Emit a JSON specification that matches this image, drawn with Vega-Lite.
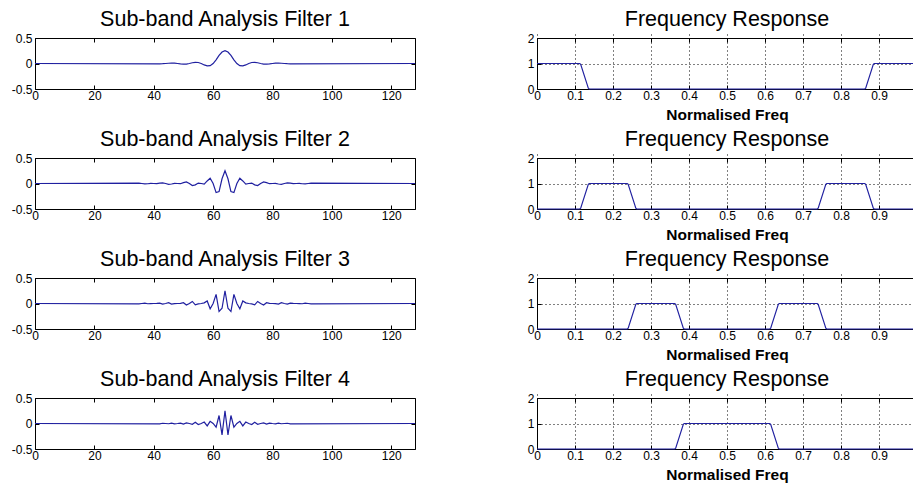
{
  "$schema": "https://vega.github.io/schema/vega-lite/v6.json",
  "background": "white",
  "padding": {"left": 10, "top": 8, "right": 0, "bottom": 0},
  "datasets": {
    "imp": [
      {"f":1,"n":0,"h":0},{"f":1,"n":42,"h":-0.0058},{"f":1,"n":43,"h":-0.0043},{"f":1,"n":44,"h":0},{"f":1,"n":45,"h":0.005},{"f":1,"n":46,"h":0.0079},{"f":1,"n":47,"h":0.0062},{"f":1,"n":48,"h":0},{"f":1,"n":49,"h":-0.0081},{"f":1,"n":50,"h":-0.0131},{"f":1,"n":51,"h":-0.0106},{"f":1,"n":52,"h":0},{"f":1,"n":53,"h":0.0144},{"f":1,"n":54,"h":0.0236},{"f":1,"n":55,"h":0.0196},{"f":1,"n":56,"h":0},{"f":1,"n":57,"h":-0.0278},{"f":1,"n":58,"h":-0.0476},{"f":1,"n":59,"h":-0.0417},{"f":1,"n":60,"h":0},{"f":1,"n":61,"h":0.073},{"f":1,"n":62,"h":0.1573},{"f":1,"n":63,"h":0.2244},{"f":1,"n":64,"h":0.25},{"f":1,"n":65,"h":0.2244},{"f":1,"n":66,"h":0.1573},{"f":1,"n":67,"h":0.073},{"f":1,"n":68,"h":0},{"f":1,"n":69,"h":-0.0417},{"f":1,"n":70,"h":-0.0476},{"f":1,"n":71,"h":-0.0278},{"f":1,"n":72,"h":0},{"f":1,"n":73,"h":0.0196},{"f":1,"n":74,"h":0.0236},{"f":1,"n":75,"h":0.0144},{"f":1,"n":76,"h":0},{"f":1,"n":77,"h":-0.0106},{"f":1,"n":78,"h":-0.0131},{"f":1,"n":79,"h":-0.0081},{"f":1,"n":80,"h":0},{"f":1,"n":81,"h":0.0062},{"f":1,"n":82,"h":0.0079},{"f":1,"n":83,"h":0.005},{"f":1,"n":84,"h":0},{"f":1,"n":85,"h":-0.0043},{"f":1,"n":86,"h":-0.0058},{"f":1,"n":128,"h":0},
      {"f":2,"n":0,"h":0},{"f":2,"n":35,"h":0.0075},{"f":2,"n":36,"h":0},{"f":2,"n":37,"h":-0.0082},{"f":2,"n":38,"h":-0.0051},{"f":2,"n":39,"h":0.0016},{"f":2,"n":40,"h":0},{"f":2,"n":41,"h":-0.0019},{"f":2,"n":42,"h":0.007},{"f":2,"n":43,"h":0.0131},{"f":2,"n":44,"h":0},{"f":2,"n":45,"h":-0.016},{"f":2,"n":46,"h":-0.0104},{"f":2,"n":47,"h":0.0034},{"f":2,"n":48,"h":0},{"f":2,"n":49,"h":-0.0042},{"f":2,"n":50,"h":0.0163},{"f":2,"n":51,"h":0.0311},{"f":2,"n":52,"h":0},{"f":2,"n":53,"h":-0.0397},{"f":2,"n":54,"h":-0.0269},{"f":2,"n":55,"h":0.009},{"f":2,"n":56,"h":0},{"f":2,"n":57,"h":-0.0124},{"f":2,"n":58,"h":0.0498},{"f":2,"n":59,"h":0.104},{"f":2,"n":60,"h":0},{"f":2,"n":61,"h":-0.1781},{"f":2,"n":62,"h":-0.1579},{"f":2,"n":63,"h":0.0931},{"f":2,"n":64,"h":0.25},{"f":2,"n":65,"h":0.0931},{"f":2,"n":66,"h":-0.1579},{"f":2,"n":67,"h":-0.1781},{"f":2,"n":68,"h":0},{"f":2,"n":69,"h":0.104},{"f":2,"n":70,"h":0.0498},{"f":2,"n":71,"h":-0.0124},{"f":2,"n":72,"h":0},{"f":2,"n":73,"h":0.009},{"f":2,"n":74,"h":-0.0269},{"f":2,"n":75,"h":-0.0397},{"f":2,"n":76,"h":0},{"f":2,"n":77,"h":0.0311},{"f":2,"n":78,"h":0.0163},{"f":2,"n":79,"h":-0.0042},{"f":2,"n":80,"h":0},{"f":2,"n":81,"h":0.0034},{"f":2,"n":82,"h":-0.0104},{"f":2,"n":83,"h":-0.016},{"f":2,"n":84,"h":0},{"f":2,"n":85,"h":0.0131},{"f":2,"n":86,"h":0.007},{"f":2,"n":87,"h":-0.0019},{"f":2,"n":88,"h":0},{"f":2,"n":89,"h":0.0016},{"f":2,"n":90,"h":-0.0051},{"f":2,"n":91,"h":-0.0082},{"f":2,"n":92,"h":0},{"f":2,"n":93,"h":0.0075},{"f":2,"n":128,"h":0},
      {"f":3,"n":0,"h":0},{"f":3,"n":35,"h":-0.0075},{"f":3,"n":36,"h":0},{"f":3,"n":37,"h":0.0082},{"f":3,"n":38,"h":-0.0051},{"f":3,"n":39,"h":-0.0016},{"f":3,"n":40,"h":0},{"f":3,"n":41,"h":0.0019},{"f":3,"n":42,"h":0.007},{"f":3,"n":43,"h":-0.0131},{"f":3,"n":44,"h":0},{"f":3,"n":45,"h":0.016},{"f":3,"n":46,"h":-0.0104},{"f":3,"n":47,"h":-0.0034},{"f":3,"n":48,"h":0},{"f":3,"n":49,"h":0.0042},{"f":3,"n":50,"h":0.0163},{"f":3,"n":51,"h":-0.0311},{"f":3,"n":52,"h":0},{"f":3,"n":53,"h":0.0397},{"f":3,"n":54,"h":-0.0269},{"f":3,"n":55,"h":-0.009},{"f":3,"n":56,"h":0},{"f":3,"n":57,"h":0.0124},{"f":3,"n":58,"h":0.0498},{"f":3,"n":59,"h":-0.104},{"f":3,"n":60,"h":0},{"f":3,"n":61,"h":0.1781},{"f":3,"n":62,"h":-0.1579},{"f":3,"n":63,"h":-0.0931},{"f":3,"n":64,"h":0.25},{"f":3,"n":65,"h":-0.0931},{"f":3,"n":66,"h":-0.1579},{"f":3,"n":67,"h":0.1781},{"f":3,"n":68,"h":0},{"f":3,"n":69,"h":-0.104},{"f":3,"n":70,"h":0.0498},{"f":3,"n":71,"h":0.0124},{"f":3,"n":72,"h":0},{"f":3,"n":73,"h":-0.009},{"f":3,"n":74,"h":-0.0269},{"f":3,"n":75,"h":0.0397},{"f":3,"n":76,"h":0},{"f":3,"n":77,"h":-0.0311},{"f":3,"n":78,"h":0.0163},{"f":3,"n":79,"h":0.0042},{"f":3,"n":80,"h":0},{"f":3,"n":81,"h":-0.0034},{"f":3,"n":82,"h":-0.0104},{"f":3,"n":83,"h":0.016},{"f":3,"n":84,"h":0},{"f":3,"n":85,"h":-0.0131},{"f":3,"n":86,"h":0.007},{"f":3,"n":87,"h":0.0019},{"f":3,"n":88,"h":0},{"f":3,"n":89,"h":-0.0016},{"f":3,"n":90,"h":-0.0051},{"f":3,"n":91,"h":0.0082},{"f":3,"n":92,"h":0},{"f":3,"n":93,"h":-0.0075},{"f":3,"n":128,"h":0},
      {"f":4,"n":0,"h":0},{"f":4,"n":42,"h":-0.0058},{"f":4,"n":43,"h":0.0043},{"f":4,"n":44,"h":0},{"f":4,"n":45,"h":-0.005},{"f":4,"n":46,"h":0.0079},{"f":4,"n":47,"h":-0.0062},{"f":4,"n":48,"h":0},{"f":4,"n":49,"h":0.0081},{"f":4,"n":50,"h":-0.0131},{"f":4,"n":51,"h":0.0106},{"f":4,"n":52,"h":0},{"f":4,"n":53,"h":-0.0144},{"f":4,"n":54,"h":0.0236},{"f":4,"n":55,"h":-0.0196},{"f":4,"n":56,"h":0},{"f":4,"n":57,"h":0.0278},{"f":4,"n":58,"h":-0.0476},{"f":4,"n":59,"h":0.0417},{"f":4,"n":60,"h":0},{"f":4,"n":61,"h":-0.073},{"f":4,"n":62,"h":0.1573},{"f":4,"n":63,"h":-0.2244},{"f":4,"n":64,"h":0.25},{"f":4,"n":65,"h":-0.2244},{"f":4,"n":66,"h":0.1573},{"f":4,"n":67,"h":-0.073},{"f":4,"n":68,"h":0},{"f":4,"n":69,"h":0.0417},{"f":4,"n":70,"h":-0.0476},{"f":4,"n":71,"h":0.0278},{"f":4,"n":72,"h":0},{"f":4,"n":73,"h":-0.0196},{"f":4,"n":74,"h":0.0236},{"f":4,"n":75,"h":-0.0144},{"f":4,"n":76,"h":0},{"f":4,"n":77,"h":0.0106},{"f":4,"n":78,"h":-0.0131},{"f":4,"n":79,"h":0.0081},{"f":4,"n":80,"h":0},{"f":4,"n":81,"h":-0.0062},{"f":4,"n":82,"h":0.0079},{"f":4,"n":83,"h":-0.005},{"f":4,"n":84,"h":0},{"f":4,"n":85,"h":0.0043},{"f":4,"n":86,"h":-0.0058},{"f":4,"n":128,"h":0}
    ],
    "fr": [
      {"f":1,"x":0,"y":1},{"f":1,"x":0.1125,"y":1},{"f":1,"x":0.115,"y":0.97},{"f":1,"x":0.1175,"y":0.85},{"f":1,"x":0.1325,"y":0.15},{"f":1,"x":0.135,"y":0.03},{"f":1,"x":0.1375,"y":0},{"f":1,"x":0.8625,"y":0},{"f":1,"x":0.865,"y":0.03},{"f":1,"x":0.8675,"y":0.15},{"f":1,"x":0.8825,"y":0.85},{"f":1,"x":0.885,"y":0.97},{"f":1,"x":0.8875,"y":1},{"f":1,"x":1,"y":1},
      {"f":2,"x":0,"y":0},{"f":2,"x":0.1125,"y":0},{"f":2,"x":0.115,"y":0.03},{"f":2,"x":0.1175,"y":0.15},{"f":2,"x":0.1325,"y":0.85},{"f":2,"x":0.135,"y":0.97},{"f":2,"x":0.1375,"y":1},{"f":2,"x":0.2375,"y":1},{"f":2,"x":0.24,"y":0.97},{"f":2,"x":0.2425,"y":0.85},{"f":2,"x":0.2575,"y":0.15},{"f":2,"x":0.26,"y":0.03},{"f":2,"x":0.2625,"y":0},{"f":2,"x":0.7375,"y":0},{"f":2,"x":0.74,"y":0.03},{"f":2,"x":0.7425,"y":0.15},{"f":2,"x":0.7575,"y":0.85},{"f":2,"x":0.76,"y":0.97},{"f":2,"x":0.7625,"y":1},{"f":2,"x":0.8625,"y":1},{"f":2,"x":0.865,"y":0.97},{"f":2,"x":0.8675,"y":0.85},{"f":2,"x":0.8825,"y":0.15},{"f":2,"x":0.885,"y":0.03},{"f":2,"x":0.8875,"y":0},{"f":2,"x":1,"y":0},
      {"f":3,"x":0,"y":0},{"f":3,"x":0.2375,"y":0},{"f":3,"x":0.24,"y":0.03},{"f":3,"x":0.2425,"y":0.15},{"f":3,"x":0.2575,"y":0.85},{"f":3,"x":0.26,"y":0.97},{"f":3,"x":0.2625,"y":1},{"f":3,"x":0.3625,"y":1},{"f":3,"x":0.365,"y":0.97},{"f":3,"x":0.3675,"y":0.85},{"f":3,"x":0.3825,"y":0.15},{"f":3,"x":0.385,"y":0.03},{"f":3,"x":0.3875,"y":0},{"f":3,"x":0.6125,"y":0},{"f":3,"x":0.615,"y":0.03},{"f":3,"x":0.6175,"y":0.15},{"f":3,"x":0.6325,"y":0.85},{"f":3,"x":0.635,"y":0.97},{"f":3,"x":0.6375,"y":1},{"f":3,"x":0.7375,"y":1},{"f":3,"x":0.74,"y":0.97},{"f":3,"x":0.7425,"y":0.85},{"f":3,"x":0.7575,"y":0.15},{"f":3,"x":0.76,"y":0.03},{"f":3,"x":0.7625,"y":0},{"f":3,"x":1,"y":0},
      {"f":4,"x":0,"y":0},{"f":4,"x":0.3625,"y":0},{"f":4,"x":0.365,"y":0.03},{"f":4,"x":0.3675,"y":0.15},{"f":4,"x":0.3825,"y":0.85},{"f":4,"x":0.385,"y":0.97},{"f":4,"x":0.3875,"y":1},{"f":4,"x":0.6125,"y":1},{"f":4,"x":0.615,"y":0.97},{"f":4,"x":0.6175,"y":0.85},{"f":4,"x":0.6325,"y":0.15},{"f":4,"x":0.635,"y":0.03},{"f":4,"x":0.6375,"y":0},{"f":4,"x":1,"y":0}
    ]
  },
  "columns": 2,
  "spacing": {"row": 69, "column": 122},
  "bounds": "flush",
  "concat": [
    {"title": "Sub-band Analysis Filter 1", "width": 380, "height": 51, "data": {"name": "imp"}, "transform": [{"filter": "datum.f == 1"}],
     "layer": [
       {"mark": "line", "encoding": {"x": {"field": "n", "type": "quantitative", "scale": {"domain": [0, 128], "nice": false}, "axis": {"values": [0,20,40,60,80,100,120], "title": null, "orient": "bottom"}}, "y": {"field": "h", "type": "quantitative", "scale": {"domain": [-0.5, 0.5], "nice": false}, "axis": {"values": [-0.5,0,0.5], "title": null, "orient": "left", "labelExpr": "''+datum.value"}}}},
       {"mark": {"type": "line", "opacity": 0}, "encoding": {"x": {"field": "n", "type": "quantitative", "axis": {"values": [0,20,40,60,80,100,120], "title": null, "labels": false, "orient": "top"}}, "y": {"field": "h", "type": "quantitative", "axis": {"values": [-0.5,0,0.5], "title": null, "labels": false, "orient": "right"}}}}
     ], "resolve": {"axis": {"x": "independent", "y": "independent"}}},
    {"title": "Frequency Response", "width": 380, "height": 51, "data": {"name": "fr"}, "transform": [{"filter": "datum.f == 1"}],
     "layer": [
       {"mark": "line", "encoding": {"x": {"field": "x", "type": "quantitative", "scale": {"domain": [0, 1], "nice": false}, "axis": {"values": [0,0.1,0.2,0.3,0.4,0.5,0.6,0.7,0.8,0.9], "title": "Normalised Freq", "grid": true, "orient": "bottom", "labelExpr": "''+datum.value"}}, "y": {"field": "y", "type": "quantitative", "scale": {"domain": [0, 2], "nice": false}, "axis": {"values": [0,1,2], "title": null, "grid": true, "orient": "left", "labelExpr": "''+datum.value"}}}},
       {"mark": {"type": "line", "opacity": 0}, "encoding": {"x": {"field": "x", "type": "quantitative", "axis": {"values": [0,0.1,0.2,0.3,0.4,0.5,0.6,0.7,0.8,0.9], "title": null, "labels": false, "orient": "top"}}, "y": {"field": "y", "type": "quantitative", "axis": {"values": [0,1,2], "title": null, "labels": false, "orient": "right"}}}}
     ], "resolve": {"axis": {"x": "independent", "y": "independent"}}},
    {"title": "Sub-band Analysis Filter 2", "width": 380, "height": 51, "data": {"name": "imp"}, "transform": [{"filter": "datum.f == 2"}],
     "layer": [
       {"mark": "line", "encoding": {"x": {"field": "n", "type": "quantitative", "scale": {"domain": [0, 128], "nice": false}, "axis": {"values": [0,20,40,60,80,100,120], "title": null, "orient": "bottom"}}, "y": {"field": "h", "type": "quantitative", "scale": {"domain": [-0.5, 0.5], "nice": false}, "axis": {"values": [-0.5,0,0.5], "title": null, "orient": "left", "labelExpr": "''+datum.value"}}}},
       {"mark": {"type": "line", "opacity": 0}, "encoding": {"x": {"field": "n", "type": "quantitative", "axis": {"values": [0,20,40,60,80,100,120], "title": null, "labels": false, "orient": "top"}}, "y": {"field": "h", "type": "quantitative", "axis": {"values": [-0.5,0,0.5], "title": null, "labels": false, "orient": "right"}}}}
     ], "resolve": {"axis": {"x": "independent", "y": "independent"}}},
    {"title": "Frequency Response", "width": 380, "height": 51, "data": {"name": "fr"}, "transform": [{"filter": "datum.f == 2"}],
     "layer": [
       {"mark": "line", "encoding": {"x": {"field": "x", "type": "quantitative", "scale": {"domain": [0, 1], "nice": false}, "axis": {"values": [0,0.1,0.2,0.3,0.4,0.5,0.6,0.7,0.8,0.9], "title": "Normalised Freq", "grid": true, "orient": "bottom", "labelExpr": "''+datum.value"}}, "y": {"field": "y", "type": "quantitative", "scale": {"domain": [0, 2], "nice": false}, "axis": {"values": [0,1,2], "title": null, "grid": true, "orient": "left", "labelExpr": "''+datum.value"}}}},
       {"mark": {"type": "line", "opacity": 0}, "encoding": {"x": {"field": "x", "type": "quantitative", "axis": {"values": [0,0.1,0.2,0.3,0.4,0.5,0.6,0.7,0.8,0.9], "title": null, "labels": false, "orient": "top"}}, "y": {"field": "y", "type": "quantitative", "axis": {"values": [0,1,2], "title": null, "labels": false, "orient": "right"}}}}
     ], "resolve": {"axis": {"x": "independent", "y": "independent"}}},
    {"title": "Sub-band Analysis Filter 3", "width": 380, "height": 51, "data": {"name": "imp"}, "transform": [{"filter": "datum.f == 3"}],
     "layer": [
       {"mark": "line", "encoding": {"x": {"field": "n", "type": "quantitative", "scale": {"domain": [0, 128], "nice": false}, "axis": {"values": [0,20,40,60,80,100,120], "title": null, "orient": "bottom"}}, "y": {"field": "h", "type": "quantitative", "scale": {"domain": [-0.5, 0.5], "nice": false}, "axis": {"values": [-0.5,0,0.5], "title": null, "orient": "left", "labelExpr": "''+datum.value"}}}},
       {"mark": {"type": "line", "opacity": 0}, "encoding": {"x": {"field": "n", "type": "quantitative", "axis": {"values": [0,20,40,60,80,100,120], "title": null, "labels": false, "orient": "top"}}, "y": {"field": "h", "type": "quantitative", "axis": {"values": [-0.5,0,0.5], "title": null, "labels": false, "orient": "right"}}}}
     ], "resolve": {"axis": {"x": "independent", "y": "independent"}}},
    {"title": "Frequency Response", "width": 380, "height": 51, "data": {"name": "fr"}, "transform": [{"filter": "datum.f == 3"}],
     "layer": [
       {"mark": "line", "encoding": {"x": {"field": "x", "type": "quantitative", "scale": {"domain": [0, 1], "nice": false}, "axis": {"values": [0,0.1,0.2,0.3,0.4,0.5,0.6,0.7,0.8,0.9], "title": "Normalised Freq", "grid": true, "orient": "bottom", "labelExpr": "''+datum.value"}}, "y": {"field": "y", "type": "quantitative", "scale": {"domain": [0, 2], "nice": false}, "axis": {"values": [0,1,2], "title": null, "grid": true, "orient": "left", "labelExpr": "''+datum.value"}}}},
       {"mark": {"type": "line", "opacity": 0}, "encoding": {"x": {"field": "x", "type": "quantitative", "axis": {"values": [0,0.1,0.2,0.3,0.4,0.5,0.6,0.7,0.8,0.9], "title": null, "labels": false, "orient": "top"}}, "y": {"field": "y", "type": "quantitative", "axis": {"values": [0,1,2], "title": null, "labels": false, "orient": "right"}}}}
     ], "resolve": {"axis": {"x": "independent", "y": "independent"}}},
    {"title": "Sub-band Analysis Filter 4", "width": 380, "height": 51, "data": {"name": "imp"}, "transform": [{"filter": "datum.f == 4"}],
     "layer": [
       {"mark": "line", "encoding": {"x": {"field": "n", "type": "quantitative", "scale": {"domain": [0, 128], "nice": false}, "axis": {"values": [0,20,40,60,80,100,120], "title": null, "orient": "bottom"}}, "y": {"field": "h", "type": "quantitative", "scale": {"domain": [-0.5, 0.5], "nice": false}, "axis": {"values": [-0.5,0,0.5], "title": null, "orient": "left", "labelExpr": "''+datum.value"}}}},
       {"mark": {"type": "line", "opacity": 0}, "encoding": {"x": {"field": "n", "type": "quantitative", "axis": {"values": [0,20,40,60,80,100,120], "title": null, "labels": false, "orient": "top"}}, "y": {"field": "h", "type": "quantitative", "axis": {"values": [-0.5,0,0.5], "title": null, "labels": false, "orient": "right"}}}}
     ], "resolve": {"axis": {"x": "independent", "y": "independent"}}},
    {"title": "Frequency Response", "width": 380, "height": 51, "data": {"name": "fr"}, "transform": [{"filter": "datum.f == 4"}],
     "layer": [
       {"mark": "line", "encoding": {"x": {"field": "x", "type": "quantitative", "scale": {"domain": [0, 1], "nice": false}, "axis": {"values": [0,0.1,0.2,0.3,0.4,0.5,0.6,0.7,0.8,0.9], "title": "Normalised Freq", "grid": true, "orient": "bottom", "labelExpr": "''+datum.value"}}, "y": {"field": "y", "type": "quantitative", "scale": {"domain": [0, 2], "nice": false}, "axis": {"values": [0,1,2], "title": null, "grid": true, "orient": "left", "labelExpr": "''+datum.value"}}}},
       {"mark": {"type": "line", "opacity": 0}, "encoding": {"x": {"field": "x", "type": "quantitative", "axis": {"values": [0,0.1,0.2,0.3,0.4,0.5,0.6,0.7,0.8,0.9], "title": null, "labels": false, "orient": "top"}}, "y": {"field": "y", "type": "quantitative", "axis": {"values": [0,1,2], "title": null, "labels": false, "orient": "right"}}}}
     ], "resolve": {"axis": {"x": "independent", "y": "independent"}}}
  ],
  "config": {
    "font": "Liberation Sans",
    "view": {"stroke": "black", "strokeWidth": 1},
    "line": {"color": "#2020a0", "strokeWidth": 1.2},
    "axis": {"domain": false, "tickSize": 4, "offset": -4, "tickColor": "black", "tickWidth": 1, "labelColor": "black", "labelFontSize": 12, "labelFont": "Liberation Sans", "labelFlush": false, "labelOverlap": false, "titleColor": "black", "titleFont": "Liberation Sans", "titleFontSize": 15.5, "titleFontWeight": "bold", "titlePadding": 6, "grid": false, "gridColor": "black", "gridDash": [1, 3], "gridWidth": 1, "gridOpacity": 1},
    "axisX": {"labelPadding": 1},
    "axisY": {"labelPadding": 3},
    "title": {"fontSize": 21.5, "fontWeight": "normal", "color": "black", "font": "Liberation Sans", "anchor": "middle", "frame": "group", "baseline": "alphabetic", "offset": 2}
  }
}
